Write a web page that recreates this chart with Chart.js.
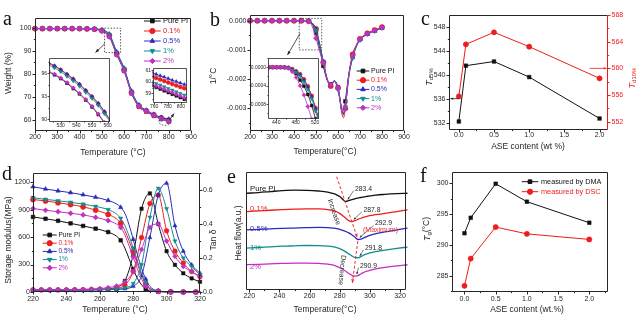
<!DOCTYPE html>
<html>
<head>
<meta charset="utf-8">
<title>PI / ASE thermal properties</title>
<script src="https://cdn.jsdelivr.net/npm/chart.js@4.4.1/dist/chart.umd.min.js"></script>
<style>
  html, body { margin: 0; padding: 0; background: #fff; }
  #fig { position: relative; width: 639px; height: 321px; overflow: hidden; background: #fff; }
  #fig canvas { position: absolute; left: 0; top: 0; }
</style>
</head>
<body>
<div id="fig">
  <canvas id="tga" width="639" height="321"></canvas>
  <canvas id="dtg" width="639" height="321"></canvas>
  <canvas id="td" width="639" height="321"></canvas>
  <canvas id="dma" width="639" height="321"></canvas>
  <canvas id="dsc" width="639" height="321"></canvas>
  <canvas id="tg" width="639" height="321"></canvas>
  <canvas id="tgaLo" width="639" height="321"></canvas>
  <canvas id="tgaHi" width="639" height="321"></canvas>
  <canvas id="dtgLo" width="639" height="321"></canvas>
</div>
<script>
const W = 639, H = 321;
const SANS = '"Liberation Sans", Arial, Helvetica, sans-serif';
const SERIF = '"Liberation Serif", "Times New Roman", serif';
const INK = '#262626';

// samples
const names = ['Pure PI', '0.1%', '0.5%', '1%', '2%'];
const colors = ['#111111', '#ee1c1c', '#2a2ab8', '#128c8c', '#c22fc2'];
const marks = [['rect', 0], ['circle', 0], ['triangle', 0], ['triangle', 180], ['rectRot', 0]];

// (a) TGA, weight %
const tgaT = [200, 233.3, 266.7, 300, 333.3, 366.7, 400, 433.3, 466.7, 500, 533.3, 566.7, 600, 633.3, 666.7, 700, 733.3, 766.7, 800];
const tgaPure = [99.6, 99.6, 99.6, 99.6, 99.6, 99.6, 99.6, 99.5, 99.3, 98.6, 96.2, 88.3, 81.3, 71.5, 65.7, 63.6, 61.8, 60.4, 59.3];
const tgaR01 = [99.6, 99.6, 99.6, 99.6, 99.6, 99.6, 99.6, 99.5, 99.4, 98.8, 96.7, 88.8, 81.8, 72.0, 66.0, 63.9, 62.2, 60.9, 59.9];
const tgaR05 = [99.6, 99.6, 99.6, 99.6, 99.6, 99.6, 99.6, 99.6, 99.5, 99.0, 97.2, 89.5, 82.4, 72.5, 66.5, 64.2, 62.4, 61.1, 60.3];
const tgaR1 = [99.6, 99.6, 99.6, 99.6, 99.6, 99.6, 99.6, 99.6, 99.5, 98.9, 97.0, 89.2, 82.1, 72.2, 66.2, 63.9, 62.0, 60.6, 59.6];
const tgaR2 = [99.6, 99.6, 99.6, 99.6, 99.6, 99.6, 99.6, 99.5, 99.3, 98.5, 96.0, 88.2, 81.2, 71.5, 65.8, 63.7, 61.9, 60.5, 59.4];
const tgaXTicks = [200, 300, 400, 500, 600, 700, 800, 900];
const tgaYTicks = [60, 70, 80, 90, 100];

// (a) insets: onset region and char yield region
const tgaLoT = [522, 526, 530, 534, 538, 542, 546, 550, 554, 558, 562];
const tgaLoPure = [96.2, 95.8, 95.3, 94.7, 94.0, 93.3, 92.5, 91.6, 90.6, 89.5, 88.3];
const tgaLoR01 = [97.3, 96.9, 96.4, 95.8, 95.2, 94.5, 93.7, 92.9, 92.0, 90.9, 89.7];
const tgaLoR05 = [97.4, 97.0, 96.5, 95.9, 95.3, 94.6, 93.8, 93.0, 92.1, 91.0, 89.8];
const tgaLoR1 = [97.1, 96.7, 96.2, 95.6, 95.0, 94.3, 93.5, 92.7, 91.8, 90.7, 89.5];
const tgaLoR2 = [96.3, 95.9, 95.4, 94.8, 94.1, 93.4, 92.6, 91.7, 90.7, 89.6, 88.4];
const tgaHiT = [757, 763, 769, 775, 781, 787, 793, 799, 805];
const tgaHiPure = [59.66, 59.51, 59.37, 59.22, 59.07, 58.92, 58.77, 58.63, 58.48];
const tgaHiR01 = [60.46, 60.33, 60.19, 60.06, 59.93, 59.80, 59.68, 59.55, 59.43];
const tgaHiR05 = [60.80, 60.66, 60.53, 60.41, 60.28, 60.14, 60.02, 59.90, 59.77];
const tgaHiR1 = [60.02, 59.86, 59.72, 59.57, 59.42, 59.28, 59.13, 58.99, 58.85];
const tgaHiR2 = [59.80, 59.65, 59.50, 59.36, 59.21, 59.06, 58.91, 58.77, 58.62];

// (b) DTG, in units of 1e-3 /°C
const dtgT = [200, 233.3, 266.7, 300, 333.3, 366.7, 400, 433.3, 466.7, 483.3, 500, 516.7, 533.3, 550, 566.7, 575, 583.3, 591.7, 600, 608.3, 616.7, 625, 633.3, 641.7, 650, 666.7, 683.3, 700, 716.7, 733.3, 750, 766.7, 783.3, 800];
const dtgMark = [1, 1, 1, 1, 1, 1, 1, 1, 1, 0, 1, 0, 1, 0, 1, 0, 0, 0, 1, 0, 0, 0, 1, 0, 0, 1, 0, 1, 0, 1, 0, 1, 0, 1];
const dtgPure = [0, 0, 0, 0, 0, 0, 0, 0, -0.02, -0.12, -0.42, -0.95, -1.55, -2.02, -2.18, -2.12, -2.05, -2.12, -2.28, -2.65, -3.05, -3.2, -2.76, -2.25, -1.8, -1.18, -0.85, -0.63, -0.52, -0.44, -0.38, -0.33, -0.28, -0.23];
const dtgR01 = [0, 0, 0, 0, 0, 0, 0, 0, -0.01, -0.08, -0.28, -0.8, -1.42, -2.0, -2.24, -2.16, -2.06, -2.14, -2.3, -2.7, -3.15, -3.32, -3.0, -2.35, -1.8, -1.15, -0.84, -0.62, -0.51, -0.43, -0.37, -0.32, -0.27, -0.22];
const dtgR05 = [0, 0, 0, 0, 0, 0, 0, 0, -0.01, -0.09, -0.3, -0.82, -1.4, -1.98, -2.2, -2.14, -2.05, -2.13, -2.3, -2.65, -3.05, -3.18, -3.0, -2.4, -1.85, -1.25, -0.88, -0.65, -0.54, -0.46, -0.4, -0.35, -0.3, -0.25];
const dtgR1 = [0, 0, 0, 0, 0, 0, 0, 0, -0.01, -0.1, -0.33, -0.85, -1.42, -1.98, -2.2, -2.15, -2.08, -2.18, -2.36, -2.7, -3.05, -3.15, -2.95, -2.4, -1.88, -1.28, -0.9, -0.66, -0.54, -0.46, -0.4, -0.35, -0.3, -0.25];
const dtgR2 = [0, 0, 0, 0, 0, 0, 0, 0, -0.03, -0.2, -0.6, -1.05, -1.45, -1.98, -2.2, -2.14, -2.06, -2.14, -2.3, -2.68, -3.1, -3.22, -3.0, -2.35, -1.82, -1.2, -0.86, -0.63, -0.52, -0.44, -0.38, -0.33, -0.28, -0.23];
const dtgYTicks = [0, -1, -2, -3];

// (b) inset, onset of the DTG drop
const dtgLoT = [425, 433, 441, 449, 457, 465, 473, 481, 489, 497, 505, 513, 521, 529];
const dtgLoPure = [0, 0, 0, 0, -0.005, -0.02, -0.06, -0.14, -0.28, -0.41, -0.59, -0.83, -1.12, -1.4];
const dtgLoR01 = [0, 0, 0, 0, 0, -0.01, -0.04, -0.09, -0.15, -0.26, -0.41, -0.62, -0.88, -1.18];
const dtgLoR05 = [0, 0, 0, 0, 0, -0.01, -0.05, -0.09, -0.16, -0.28, -0.43, -0.64, -0.9, -1.2];
const dtgLoR1 = [0, 0, 0, 0, 0, -0.01, -0.06, -0.11, -0.19, -0.32, -0.48, -0.68, -0.95, -1.25];
const dtgLoR2 = [0, 0, 0, 0, -0.01, -0.03, -0.1, -0.22, -0.4, -0.6, -0.85, -1.12, -1.4, -1.7];

// (c) decomposition temperatures vs ASE content
const aseLoad = [0, 0.1, 0.5, 1.0, 2.0];
const td5 = [532.2, 541.5, 542.2, 539.6, 532.7];
const td10 = [555.8, 563.6, 565.4, 563.25, 558.5];
const td5Ticks = [532, 536, 540, 544, 548];
const td10Ticks = [552, 556, 560, 564, 568];
const loadTicks = [0, 0.5, 1.0, 1.5, 2.0];

// (d) DMA: storage modulus (MPa) and tan delta
const modT = [220, 227.5, 235, 242.5, 250, 257.5, 265, 270, 272.5, 275, 277.5, 280, 282.5, 285, 287.5, 290, 295, 302.5, 310, 317.5, 320];
const modMark = [1, 1, 1, 1, 1, 1, 1, 0, 1, 0, 0, 1, 0, 0, 1, 0, 1, 1, 1, 1, 0];
const modPure = [820, 800, 778, 750, 722, 692, 655, 610, 565, 480, 365, 250, 150, 78, 32, 12, 4, 1, 0, 0, 0];
const modR01 = [1010, 995, 975, 955, 930, 895, 848, 800, 752, 670, 560, 440, 310, 185, 88, 35, 8, 2, 0, 0, 0];
const modR05 = [1150, 1125, 1105, 1085, 1062, 1035, 1000, 962, 925, 860, 735, 575, 410, 260, 140, 60, 12, 3, 0, 0, 0];
const modR1 = [1030, 1012, 997, 980, 960, 935, 900, 852, 805, 725, 612, 480, 340, 205, 98, 40, 8, 2, 0, 0, 0];
const modR2 = [912, 893, 877, 860, 842, 815, 780, 742, 705, 625, 505, 385, 255, 145, 62, 22, 5, 1, 0, 0, 0];
const tanT = [220, 225, 230, 235, 240, 245, 250, 255, 260, 265, 270, 275, 280, 285, 290, 295, 300, 305, 310, 315, 320];
const tanPure = [0.012, 0.012, 0.012, 0.012, 0.012, 0.013, 0.013, 0.014, 0.016, 0.019, 0.028, 0.065, 0.22, 0.49, 0.58, 0.40, 0.24, 0.16, 0.11, 0.08, 0.06];
const tanR01 = [0.012, 0.012, 0.012, 0.012, 0.012, 0.013, 0.013, 0.014, 0.015, 0.017, 0.022, 0.04, 0.12, 0.32, 0.52, 0.57, 0.36, 0.24, 0.17, 0.12, 0.09];
const tanR05 = [0.012, 0.012, 0.012, 0.012, 0.012, 0.012, 0.012, 0.012, 0.013, 0.014, 0.015, 0.019, 0.034, 0.095, 0.32, 0.57, 0.64, 0.39, 0.24, 0.16, 0.11];
const tanR1 = [0.012, 0.012, 0.012, 0.012, 0.012, 0.012, 0.012, 0.013, 0.014, 0.015, 0.018, 0.025, 0.05, 0.16, 0.44, 0.61, 0.49, 0.3, 0.2, 0.15, 0.1];
const tanR2 = [0.014, 0.014, 0.014, 0.014, 0.014, 0.015, 0.016, 0.018, 0.021, 0.026, 0.036, 0.06, 0.12, 0.25, 0.38, 0.40, 0.30, 0.21, 0.15, 0.12, 0.09];
const dmaXTicks = [220, 240, 260, 280, 300, 320];
const modTicks = [0, 300, 600, 900, 1200];
const tanTicks = [0, 0.2, 0.4, 0.6];

// (e) DSC heat flow, stacked curves (a.u.)
const dscT = [218, 226, 234, 242, 250, 258, 266, 272, 276, 278, 280, 282, 284, 286, 288, 290, 292, 294, 296, 298, 300, 304, 310, 318, 325];
const dscPure = [82.0, 82.6, 83.4, 84.2, 84.6, 84.5, 83.9, 83.0, 81.6, 80.6, 79.2, 76.8, 75.0, 75.7, 76.6, 77.3, 77.9, 78.4, 78.9, 79.3, 79.7, 80.4, 81.0, 81.6, 82.0];
const dscR01 = [66.5, 67.0, 67.6, 68.1, 68.5, 68.8, 68.7, 68.2, 67.2, 66.3, 64.9, 63.0, 60.8, 58.8, 58.0, 58.7, 59.8, 60.8, 61.7, 62.4, 63.0, 63.8, 64.9, 66.5, 67.9];
const dscR05 = [51.0, 51.4, 51.8, 52.2, 52.5, 52.8, 53.0, 52.9, 52.4, 52.0, 51.4, 50.6, 49.6, 48.4, 46.8, 44.9, 42.8, 43.1, 44.2, 45.3, 46.2, 47.7, 49.3, 51.0, 52.4];
const dscR1 = [35.5, 36.0, 36.6, 37.1, 37.4, 37.7, 37.6, 37.2, 36.5, 35.9, 35.0, 33.8, 32.3, 30.6, 28.9, 27.6, 27.2, 28.3, 29.6, 30.6, 31.4, 32.5, 33.8, 35.2, 36.4];
const dscR2 = [21.4, 21.8, 22.2, 22.6, 22.8, 22.8, 22.5, 22.0, 21.0, 20.1, 19.0, 17.6, 15.9, 14.0, 12.5, 11.7, 12.2, 13.6, 14.9, 15.9, 16.7, 17.9, 19.2, 20.5, 21.4];
const dscTg = [283.4, 287.8, 292.9, 291.8, 290.9];

// (f) glass transition temperature vs ASE content
const tgDMA = [291.9, 294.4, 299.9, 297.0, 293.6];
const tgDSC = [283.4, 287.8, 292.9, 291.8, 290.9];
const tgTicks = [285, 290, 295, 300];

Chart.defaults.animation = false;
Chart.defaults.responsive = false;
Chart.defaults.devicePixelRatio = 1;
Chart.defaults.events = [];
Chart.defaults.font.family = SANS;
Chart.defaults.font.size = 7;
Chart.defaults.color = INK;
Chart.defaults.plugins.legend.display = false;
Chart.defaults.plugins.tooltip.enabled = false;

function series(xs, ys, i, o) {
  o = o || {};
  const col = o.color || colors[i];
  return {
    label: names[i],
    data: xs.map((x, k) => ({x: x, y: ys[k]})),
    yAxisID: o.axis || 'y',
    order: 10 - i,
    borderColor: col,
    borderWidth: o.width || 1,
    pointStyle: marks[i][0],
    pointRotation: marks[i][1],
    pointRadius: o.radius === undefined ? 2.6 : o.radius,
    pointBackgroundColor: col,
    pointBorderColor: col,
    pointBorderWidth: 0.5,
    cubicInterpolationMode: o.straight ? 'default' : 'monotone',
    tension: 0,
    clip: o.clip === undefined ? false : o.clip
  };
}

// tick labels are painted by the frame plugin, the scale only maps values
function axis(pos, min, max, ticks, size, hidden) {
  return {
    type: 'linear', position: pos, min: min, max: max, bounds: 'data',
    display: !hidden,
    grid: {display: false}, border: {display: false},
    afterBuildTicks: s => { s.ticks = ticks.map(v => ({value: v})); },
    afterFit: s => { if (pos === 'bottom') s.height = size; else s.width = size; },
    ticks: {display: false, autoSkip: false}
  };
}

// padding so the plot area lands on (l, t) - (r, b)
function box(l, t, r, b, yw, rw, xh) {
  return {autoPadding: false, padding: {left: l - yw, top: t, right: W - r - rw, bottom: H - b - xh}};
}

function seg(c, x1, y1, x2, y2, col) {
  c.strokeStyle = col;
  c.beginPath(); c.moveTo(x1, y1); c.lineTo(x2, y2); c.stroke();
}

// box frame, outward major/minor ticks and tick labels
function frame(minor, labels, o) {
  o = o || {};
  return {
    id: 'frame',
    beforeDraw(chart) {
      if (!o.fill) return;
      const a = chart.chartArea, c = chart.ctx;
      c.save(); c.fillStyle = '#fff';
      c.fillRect(a.left, a.top, a.right - a.left, a.bottom - a.top);
      c.restore();
    },
    afterDatasetsDraw(chart) {
      const c = chart.ctx, a = chart.chartArea;
      const L = Math.round(a.left) + 0.5, R = Math.round(a.right) - 0.5;
      const T = Math.round(a.top) + 0.5, B = Math.round(a.bottom) - 0.5;
      const len = o.len || 3, fs = o.font || 7, gap = o.gap || 4, xgap = o.xgap || 7;
      c.save();
      c.lineWidth = o.lw || 1;
      seg(c, L, T, R, T, INK); seg(c, L, B, R, B, INK); seg(c, L, T, L, B, INK);
      seg(c, R, T, R, B, o.right || INK);
      for (const s of Object.values(chart.scales)) {
        if (!s.options.display) continue;
        const col = s.position === 'right' ? (o.right || INK) : INK;
        const mark = (v, n) => {
          const p = Math.round(s.getPixelForValue(v)) + 0.5;
          if (s.position === 'bottom') seg(c, p, B, p, B + n, col);
          else if (s.position === 'left') seg(c, L, p, L - n, p, col);
          else seg(c, R, p, R + n, p, col);
        };
        s.ticks.forEach(t => mark(t.value, len));
        const st = minor[s.id];
        if (st) {
          for (let v = Math.ceil(s.min / st - 1e-6) * st; v <= s.max + 1e-9; v += st) {
            if (!s.ticks.some(t => Math.abs(t.value - v) < st * 0.1)) mark(v, len * 0.55);
          }
        }
        const fmt = labels[s.id];
        if (!fmt) continue;
        s.ticks.forEach(t => {
          const p = s.getPixelForValue(t.value), str = fmt(t.value);
          if (s.position === 'bottom') txt(c, str, p, B + xgap, {size: fs, color: col});
          else if (s.position === 'left') txt(c, str, L - gap, p, {size: fs, color: col, align: 'right'});
          else txt(c, str, R + gap, p, {size: fs, color: col, align: 'left'});
        });
      }
      c.restore();
    }
  };
}

function txt(c, s, x, y, o) {
  o = o || {};
  c.save();
  c.font = (o.style ? o.style + ' ' : '') + (o.size || 8.5) + 'px ' + (o.family || SANS);
  c.fillStyle = o.color || INK;
  c.textAlign = o.align || 'center';
  c.textBaseline = o.base || 'middle';
  c.translate(x, y);
  if (o.rot) c.rotate(o.rot * Math.PI / 180);
  c.fillText(s, 0, 0);
  c.restore();
}

// title with italic symbol and subscript pieces
function rich(c, parts, x, y, rot, color) {
  c.save();
  c.translate(x, y);
  if (rot) c.rotate(rot * Math.PI / 180);
  c.fillStyle = color || INK;
  c.textBaseline = 'middle';
  c.textAlign = 'left';
  const fontOf = p => (p.italic ? 'italic ' : '') + p.size + 'px ' + SANS;
  let w = 0;
  parts.forEach(p => { c.font = fontOf(p); w += c.measureText(p.t).width; });
  let cx = -w / 2;
  parts.forEach(p => { c.font = fontOf(p); c.fillText(p.t, cx, p.dy || 0); cx += c.measureText(p.t).width; });
  c.restore();
}

function letter(c, s, x, y) {
  txt(c, s, x, y, {size: 20, family: SERIF, align: 'left', base: 'alphabetic', color: '#111'});
}

function arrow(c, x1, y1, x2, y2, o) {
  o = o || {};
  const col = o.color || INK, h = o.head || 4;
  c.save();
  c.strokeStyle = col; c.fillStyle = col; c.lineWidth = o.w || 0.8;
  if (o.dash) c.setLineDash(o.dash);
  c.beginPath(); c.moveTo(x1, y1); c.lineTo(x2, y2); c.stroke();
  c.setLineDash([]);
  const ang = Math.atan2(y2 - y1, x2 - x1);
  c.beginPath(); c.moveTo(x2, y2);
  c.lineTo(x2 - h * Math.cos(ang - 0.4), y2 - h * Math.sin(ang - 0.4));
  c.lineTo(x2 - h * Math.cos(ang + 0.4), y2 - h * Math.sin(ang + 0.4));
  c.closePath(); c.fill();
  c.restore();
}

function dotted(c, draw) {
  c.save();
  c.strokeStyle = '#333'; c.lineWidth = 0.8; c.setLineDash([1.5, 1.5]);
  c.beginPath(); draw(); c.stroke();
  c.restore();
}

// legend rows: line + marker sample, coloured label
function legend(c, rows, x0, x1, xt, size) {
  rows.forEach(r => {
    const col = r.color || colors[r.i];
    c.save();
    c.lineWidth = 1;
    seg(c, x0, r.y, x1, r.y, col);
    c.fillStyle = col; c.strokeStyle = col;
    Chart.helpers.drawPoint(c, {pointStyle: marks[r.i][0], rotation: marks[r.i][1], radius: 2.6, borderWidth: 0.5}, (x0 + x1) / 2, r.y);
    c.restore();
    txt(c, r.label || names[r.i], xt, r.y, {align: 'left', size: size, color: col});
  });
}

function scalesOf(chart, yid) {
  const xs = chart.scales.x, ys = chart.scales[yid || 'y'];
  return [v => xs.getPixelForValue(v), v => ys.getPixelForValue(v)];
}

const int = v => String(v);
const one = v => v.toFixed(1);

// ---------- (a) TGA ----------
new Chart(document.getElementById('tga'), {
  type: 'line',
  data: {datasets: [tgaPure, tgaR01, tgaR05, tgaR1, tgaR2].map((ys, i) => series(tgaT, ys, i))},
  options: {
    layout: box(35, 18, 191, 131, 20, 0, 16),
    scales: {
      x: axis('bottom', 200, 900, tgaXTicks, 16),
      y: axis('left', 55.2, 104.2, tgaYTicks, 20)
    }
  },
  plugins: [frame({x: 50, y: 5}, {x: int, y: int}), {
    id: 'notesA',
    afterDraw(chart) {
      const c = chart.ctx, [X, Y] = scalesOf(chart);
      letter(c, 'a', 3, 25);
      txt(c, 'Temperature (°C)', 113, 153);
      txt(c, 'Weight (%)', 8.5, 73, {rot: -90});
      dotted(c, () => c.rect(X(512), Y(99.8), X(584) - X(512), Y(89.2) - Y(99.8)));
      arrow(c, 105, 43.5, 95.5, 52.5);
      dotted(c, () => c.ellipse(X(783), Y(59.2), 6, 3.5, 0, 0, Math.PI * 2));
      arrow(c, 169.5, 120, 174, 113.5);
      legend(c, [0, 1, 2, 3, 4].map(i => ({i: i, y: 21 + i * 10})), 144, 160.7, 163, 7.5);
    }
  }]
});

// ---------- (b) DTG ----------
new Chart(document.getElementById('dtg'), {
  type: 'line',
  data: {datasets: [dtgPure, dtgR01, dtgR05, dtgR1, dtgR2].map((ys, i) =>
    series(dtgT, ys, i, {radius: dtgMark.map(m => m ? 2.6 : 0)}))},
  options: {
    layout: box(250, 15, 404, 131, 30, 0, 16),
    scales: {
      x: axis('bottom', 200, 900, tgaXTicks, 16),
      y: axis('left', -3.777, 0.195, dtgYTicks, 30)
    }
  },
  plugins: [frame({x: 50, y: 0.5}, {x: int, y: v => (v / 1000).toFixed(3)}), {
    id: 'notesB',
    afterDraw(chart) {
      const c = chart.ctx, [X, Y] = scalesOf(chart);
      letter(c, 'b', 210, 26);
      txt(c, 'Temperature(°C)', 325, 152);
      txt(c, '1/°C', 214, 76, {rot: -90});
      dotted(c, () => c.rect(X(424), Y(0.08), X(526) - X(424), Y(-1.0) - Y(0.08)));
      arrow(c, 300, 33.5, 287.5, 55);
      legend(c, [0, 1, 2, 3, 4].map(i => ({i: i, y: 71 + i * 9.2})), 356.7, 369.3, 371, 7);
    }
  }]
});

// ---------- (c) Td5% / Td10% ----------
const RED = colors[1];
new Chart(document.getElementById('td'), {
  type: 'line',
  data: {datasets: [
    series(aseLoad, td5, 0, {straight: true}),
    series(aseLoad, td10, 1, {straight: true, axis: 'y1'})
  ]},
  options: {
    layout: box(449, 15, 608, 130, 20, 20, 16),
    scales: {
      x: axis('bottom', -0.14, 2.12, loadTicks, 16),
      y: axis('left', 530.78, 549.95, td5Ticks, 20),
      y1: axis('right', 550.76, 568, td10Ticks, 20)
    }
  },
  plugins: [frame({x: 0.25, y: 2, y1: 2}, {x: one, y: int, y1: int}, {right: RED, xgap: 6}), {
    id: 'notesC',
    afterDraw(chart) {
      const c = chart.ctx, [X, Y] = scalesOf(chart);
      const Y1 = v => chart.scales.y1.getPixelForValue(v);
      letter(c, 'c', 421, 25);
      txt(c, 'ASE content (wt %)', 528, 146.5);
      rich(c, [{t: 'T', size: 9, italic: true}, {t: 'd5%', size: 6, dy: 2.5}], 429, 77, -90);
      rich(c, [{t: 'T', size: 9, italic: true}, {t: 'd10%', size: 6, dy: 2.5}], 632, 78, -90, RED);
      arrow(c, X(0), Y(536), X(-0.12), Y(536), {head: 3});
      arrow(c, X(1.86), Y1(560), X(2.1), Y1(560), {head: 3, color: RED});
    }
  }]
});

// ---------- (d) DMA ----------
new Chart(document.getElementById('dma'), {
  type: 'line',
  data: {datasets: [
    ...[modPure, modR01, modR05, modR1, modR2].map((ys, i) =>
      series(modT, ys, i, {radius: modMark.map(m => m ? 2.6 : 0)})),
    ...[tanPure, tanR01, tanR05, tanR1, tanR2].map((ys, i) =>
      series(tanT, ys, i, {axis: 'y1', radius: 2.4}))
  ]},
  options: {
    layout: box(33, 173, 200, 292, 22, 14, 16),
    scales: {
      x: axis('bottom', 220, 320, dmaXTicks, 16),
      y: axis('left', 0, 1300, modTicks, 22),
      y1: axis('right', 0, 0.7, tanTicks, 14)
    }
  },
  plugins: [frame({x: 10, y: 150, y1: 0.1}, {x: int, y: int, y1: one}, {gap: 3.5, xgap: 8}), {
    id: 'notesD',
    afterDraw(chart) {
      const c = chart.ctx;
      letter(c, 'd', 2, 180);
      txt(c, 'Temperature (°C)', 115, 310);
      txt(c, 'Storage modulus(MPa)', 8.5, 240, {rot: -90});
      txt(c, 'Tan δ', 213.5, 240, {rot: -90});
      legend(c, [0, 1, 2, 3, 4].map(i => ({i: i, y: 235 + i * 8.2})), 42.7, 56.7, 58.5, 6.5);
    }
  }]
});

// ---------- (e) DSC ----------
new Chart(document.getElementById('dsc'), {
  type: 'line',
  data: {datasets: [dscPure, dscR01, dscR05, dscR1, dscR2].map((ys, i) =>
    series(dscT, ys, i, {radius: 0, width: 1.3}))},
  options: {
    layout: box(246, 172, 406, 290, 0, 0, 16),
    scales: {
      x: axis('bottom', 217.8, 324, dmaXTicks, 16),
      y: axis('left', 0, 100, [], 0, true)
    }
  },
  plugins: [frame({x: 10}, {x: int}, {xgap: 7}), {
    id: 'notesE',
    afterDraw(chart) {
      const c = chart.ctx, [X, Y] = scalesOf(chart);
      const dip = [[284, 75.0], [288, 58.0], [292, 42.8], [292, 27.2], [290, 11.7]];
      letter(c, 'e', 227, 183);
      txt(c, 'Temperature(°C)', 325, 310);
      txt(c, 'Heat flow(a.u.)', 238.5, 233, {rot: -90});
      const lab = [188.7, 208.5, 228.5, 248, 266.5];
      names.forEach((n, i) => txt(c, n, 250, lab[i], {align: 'left', size: 7.7, color: colors[i]}));
      // trend guides through the transition dips
      arrow(c, X(278), Y(96), X(291.6), Y(44.5), {color: '#ee3030', dash: [3, 2], w: 1, head: 4});
      arrow(c, X(292), Y(41.5), X(288.4), Y(6), {color: '#ee3030', dash: [3, 2], w: 1, head: 4});
      txt(c, 'Increase', 334, 212, {size: 7, rot: 71});
      txt(c, 'Decrease', 342, 270, {size: 7, rot: 95});
      // Tg values with pointers
      const pos = [[355, 188.7], [363.5, 209.7], [375, 223.5], [365, 248], [360, 265.7]];
      dscTg.forEach((v, i) => {
        const [tx, ty] = pos[i];
        txt(c, v.toFixed(1), tx, ty, {align: 'left', size: 6.8});
        arrow(c, tx - 1.5, ty + 2, X(dip[i][0]) + 2, Y(dip[i][1]) - 2, {w: 0.6, head: 2.5});
      });
      txt(c, '(Maximum)', 363, 230.5, {align: 'left', size: 7, color: '#ee3030'});
    }
  }]
});

// ---------- (f) Tg ----------
new Chart(document.getElementById('tg'), {
  type: 'line',
  data: {datasets: [
    series(aseLoad, tgDMA, 0, {straight: true}),
    series(aseLoad, tgDSC, 1, {straight: true})
  ]},
  options: {
    layout: box(452, 172, 608, 292, 20, 0, 16),
    scales: {
      x: axis('bottom', -0.2, 2.3, loadTicks, 16),
      y: axis('left', 282.4, 301.8, tgTicks, 20)
    }
  },
  plugins: [frame({x: 0.25, y: 2.5}, {x: one, y: int}, {xgap: 8}), {
    id: 'notesF',
    afterDraw(chart) {
      const c = chart.ctx;
      letter(c, 'f', 420, 181.5);
      txt(c, 'ASE content (wt.%)', 527, 310);
      rich(c, [{t: 'T', size: 9, italic: true}, {t: 'g', size: 6, dy: 2.5}, {t: '(°C)', size: 8.5}], 427, 229, -90);
      legend(c, [{i: 0, y: 181.7, label: 'measured by DMA'}, {i: 1, y: 191.7, label: 'measured by DSC'}],
        521.7, 538.3, 541, 7.3);
    }
  }]
});

// ---------- insets ----------
function inset(id, xs, sets, area, xr, yr, xt, yt, yfmt, minor) {
  return new Chart(document.getElementById(id), {
    type: 'line',
    data: {datasets: sets.map((ys, i) => series(xs, ys, i, {radius: 2, width: 0.8, clip: 0}))},
    options: {
      layout: box(area[0], area[1], area[2], area[3], 20, 0, 10),
      scales: {
        x: axis('bottom', xr[0], xr[1], xt, 10),
        y: axis('left', yr[0], yr[1], yt, 20)
      }
    },
    plugins: [frame(minor, {x: int, y: yfmt}, {fill: true, len: 2, lw: 0.8, font: 5, gap: 2.5, xgap: 4.5})]
  });
}

inset('tgaLo', tgaLoT, [tgaLoPure, tgaLoR01, tgaLoR05, tgaLoR1, tgaLoR2],
  [49, 58, 110, 121.5], [522.5, 561.5], [89.7, 98], [530, 540, 550, 560], [90, 93, 96], int, {x: 5, y: 1.5});
inset('tgaHi', tgaHiT, [tgaHiPure, tgaHiR01, tgaHiR05, tgaHiR1, tgaHiR2],
  [152.5, 68, 187, 102.5], [757.5, 809], [58.2, 61.2], [760, 780, 800], [59, 60, 61], int, {x: 10, y: 0.5});
inset('dtgLo', dtgLoT, [dtgLoPure, dtgLoR01, dtgLoR05, dtgLoR1, dtgLoR2],
  [268, 58, 318.5, 118.5], [423, 527], [-1.11, 0.2], [440, 480, 520], [0, -0.4, -0.8],
  v => (v / 1000).toFixed(4), {x: 20, y: 0.2});
</script>
</body>
</html>
